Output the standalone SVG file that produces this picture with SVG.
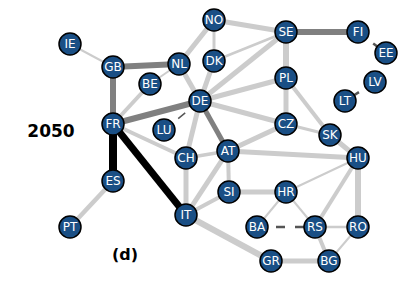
<svg xmlns="http://www.w3.org/2000/svg" width="406" height="305" viewBox="0 0 406 305">
<style>
.l{stroke:#cccccc;fill:none;stroke-linecap:butt}
.d{stroke:#808080;fill:none}
.k{stroke:#000000;fill:none}
.ds{stroke:#555555;fill:none;stroke-dasharray:9 10}
.n circle{fill:#1a4f85;stroke:#000;stroke-width:1.5}
.n text{fill:#fff;font-family:"DejaVu Sans",sans-serif;font-size:12px;text-anchor:middle}
.t{font-family:"DejaVu Sans",sans-serif;font-weight:bold;fill:#000}
</style>
<rect width="406" height="305" fill="#fff"/>
<g id="connectors">
<line class="l" x1="70" y1="44" x2="113" y2="67" stroke-width="2"/>
<line class="l" x1="150" y1="84" x2="179" y2="64" stroke-width="2"/>
<line class="l" x1="113" y1="124" x2="150" y2="84" stroke-width="4"/>
<line class="l" x1="113" y1="124" x2="186" y2="158" stroke-width="4"/>
<line class="l" x1="113" y1="181" x2="70" y2="227" stroke-width="4.5"/>
<line class="l" x1="179" y1="64" x2="200" y2="101" stroke-width="5"/>
<line class="l" x1="179" y1="64" x2="214" y2="20" stroke-width="5"/>
<line class="l" x1="214" y1="61" x2="214" y2="20" stroke-width="3"/>
<line class="l" x1="214" y1="61" x2="200" y2="101" stroke-width="5"/>
<line class="l" x1="214" y1="61" x2="286" y2="32" stroke-width="2.5"/>
<line class="l" x1="214" y1="20" x2="286" y2="32" stroke-width="5"/>
<line class="l" x1="200" y1="101" x2="286" y2="32" stroke-width="5"/>
<line class="l" x1="200" y1="101" x2="286" y2="78" stroke-width="5"/>
<line class="l" x1="200" y1="101" x2="286" y2="124" stroke-width="5"/>
<line class="l" x1="200" y1="101" x2="186" y2="158" stroke-width="5"/>
<line class="l" x1="286" y1="32" x2="286" y2="78" stroke-width="6"/>
<line class="l" x1="286" y1="78" x2="286" y2="124" stroke-width="5"/>
<line class="l" x1="286" y1="78" x2="330" y2="135" stroke-width="4"/>
<line class="l" x1="286" y1="124" x2="330" y2="135" stroke-width="3"/>
<line class="l" x1="286" y1="124" x2="228" y2="151" stroke-width="5"/>
<line class="l" x1="330" y1="135" x2="358" y2="158" stroke-width="5"/>
<line class="l" x1="228" y1="151" x2="358" y2="158" stroke-width="5"/>
<line class="l" x1="186" y1="158" x2="228" y2="151" stroke-width="3.5"/>
<line class="l" x1="186" y1="158" x2="186" y2="215" stroke-width="5"/>
<line class="l" x1="228" y1="151" x2="186" y2="215" stroke-width="5"/>
<line class="l" x1="228" y1="151" x2="229" y2="192" stroke-width="4"/>
<line class="l" x1="229" y1="192" x2="186" y2="215" stroke-width="4"/>
<line class="l" x1="229" y1="192" x2="286" y2="192" stroke-width="5"/>
<line class="l" x1="286" y1="192" x2="358" y2="158" stroke-width="2"/>
<line class="l" x1="286" y1="192" x2="257" y2="227" stroke-width="2"/>
<line class="l" x1="286" y1="192" x2="315" y2="227" stroke-width="2"/>
<line class="l" x1="315" y1="227" x2="358" y2="158" stroke-width="4"/>
<line class="l" x1="315" y1="227" x2="358" y2="227" stroke-width="2.5"/>
<line class="l" x1="315" y1="227" x2="329" y2="261" stroke-width="4"/>
<line class="l" x1="358" y1="158" x2="358" y2="227" stroke-width="6"/>
<line class="l" x1="358" y1="227" x2="329" y2="261" stroke-width="2"/>
<line class="l" x1="271" y1="261" x2="329" y2="261" stroke-width="5"/>
<line class="l" x1="186" y1="215" x2="271" y2="261" stroke-width="6"/>
<line class="d" x1="113" y1="67" x2="179" y2="64" stroke-width="6"/>
<line class="d" x1="113" y1="67" x2="113" y2="124" stroke-width="6"/>
<line class="d" x1="113" y1="124" x2="200" y2="101" stroke-width="6"/>
<line class="d" x1="200" y1="101" x2="228" y2="151" stroke-width="5"/>
<line class="d" x1="286" y1="32" x2="358" y2="32" stroke-width="6"/>
<line class="k" x1="113" y1="124" x2="113" y2="181" stroke-width="8"/>
<line class="k" x1="113" y1="124" x2="186" y2="215" stroke-width="7"/>
<line class="ds" x1="200" y1="101" x2="164" y2="130" stroke="#aaaaaa" stroke-width="1.5"/>
<line class="ds" x1="358" y1="32" x2="386" y2="53" stroke-width="2.5"/>
<line class="ds" x1="375" y1="82" x2="345" y2="101" stroke-width="2.5"/>
<line class="ds" x1="257" y1="227" x2="315" y2="227" stroke-width="2.5"/>
</g>
<g id="IE" class="n"><circle cx="70" cy="44" r="11"/><text x="70" y="48.3">IE</text></g>
<g id="GB" class="n"><circle cx="113" cy="67" r="11"/><text x="113" y="71.3">GB</text></g>
<g id="NL" class="n"><circle cx="179" cy="64" r="11"/><text x="179" y="68.3">NL</text></g>
<g id="BE" class="n"><circle cx="150" cy="84" r="11"/><text x="150" y="88.3">BE</text></g>
<g id="FR" class="n"><circle cx="113" cy="124" r="11"/><text x="113" y="128.3">FR</text></g>
<g id="LU" class="n"><circle cx="164" cy="130" r="11"/><text x="164" y="134.3">LU</text></g>
<g id="DE" class="n"><circle cx="200" cy="101" r="11"/><text x="200" y="105.3">DE</text></g>
<g id="DK" class="n"><circle cx="214" cy="61" r="11"/><text x="214" y="65.3">DK</text></g>
<g id="NO" class="n"><circle cx="214" cy="20" r="11"/><text x="214" y="24.3">NO</text></g>
<g id="SE" class="n"><circle cx="286" cy="32" r="11"/><text x="286" y="36.3">SE</text></g>
<g id="FI" class="n"><circle cx="358" cy="32" r="11"/><text x="358" y="36.3">FI</text></g>
<g id="EE" class="n"><circle cx="386" cy="53" r="11"/><text x="386" y="57.3">EE</text></g>
<g id="LV" class="n"><circle cx="375" cy="82" r="11"/><text x="375" y="86.3">LV</text></g>
<g id="LT" class="n"><circle cx="345" cy="101" r="11"/><text x="345" y="105.3">LT</text></g>
<g id="PL" class="n"><circle cx="286" cy="78" r="11"/><text x="286" y="82.3">PL</text></g>
<g id="CZ" class="n"><circle cx="286" cy="124" r="11"/><text x="286" y="128.3">CZ</text></g>
<g id="SK" class="n"><circle cx="330" cy="135" r="11"/><text x="330" y="139.3">SK</text></g>
<g id="HU" class="n"><circle cx="358" cy="158" r="11"/><text x="358" y="162.3">HU</text></g>
<g id="AT" class="n"><circle cx="228" cy="151" r="11"/><text x="228" y="155.3">AT</text></g>
<g id="CH" class="n"><circle cx="186" cy="158" r="11"/><text x="186" y="162.3">CH</text></g>
<g id="SI" class="n"><circle cx="229" cy="192" r="11"/><text x="229" y="196.3">SI</text></g>
<g id="HR" class="n"><circle cx="286" cy="192" r="11"/><text x="286" y="196.3">HR</text></g>
<g id="ES" class="n"><circle cx="113" cy="181" r="11"/><text x="113" y="185.3">ES</text></g>
<g id="PT" class="n"><circle cx="70" cy="227" r="11"/><text x="70" y="231.3">PT</text></g>
<g id="IT" class="n"><circle cx="186" cy="215" r="11"/><text x="186" y="219.3">IT</text></g>
<g id="BA" class="n"><circle cx="257" cy="227" r="11"/><text x="257" y="231.3">BA</text></g>
<g id="RS" class="n"><circle cx="315" cy="227" r="11"/><text x="315" y="231.3">RS</text></g>
<g id="RO" class="n"><circle cx="358" cy="227" r="11"/><text x="358" y="231.3">RO</text></g>
<g id="GR" class="n"><circle cx="271" cy="261" r="11"/><text x="271" y="265.3">GR</text></g>
<g id="BG" class="n"><circle cx="329" cy="261" r="11"/><text x="329" y="265.3">BG</text></g>
<text class="t" x="51" y="137" font-size="17" text-anchor="middle">2050</text>
<text class="t" x="125" y="260" font-size="16" text-anchor="middle">(d)</text>
</svg>
